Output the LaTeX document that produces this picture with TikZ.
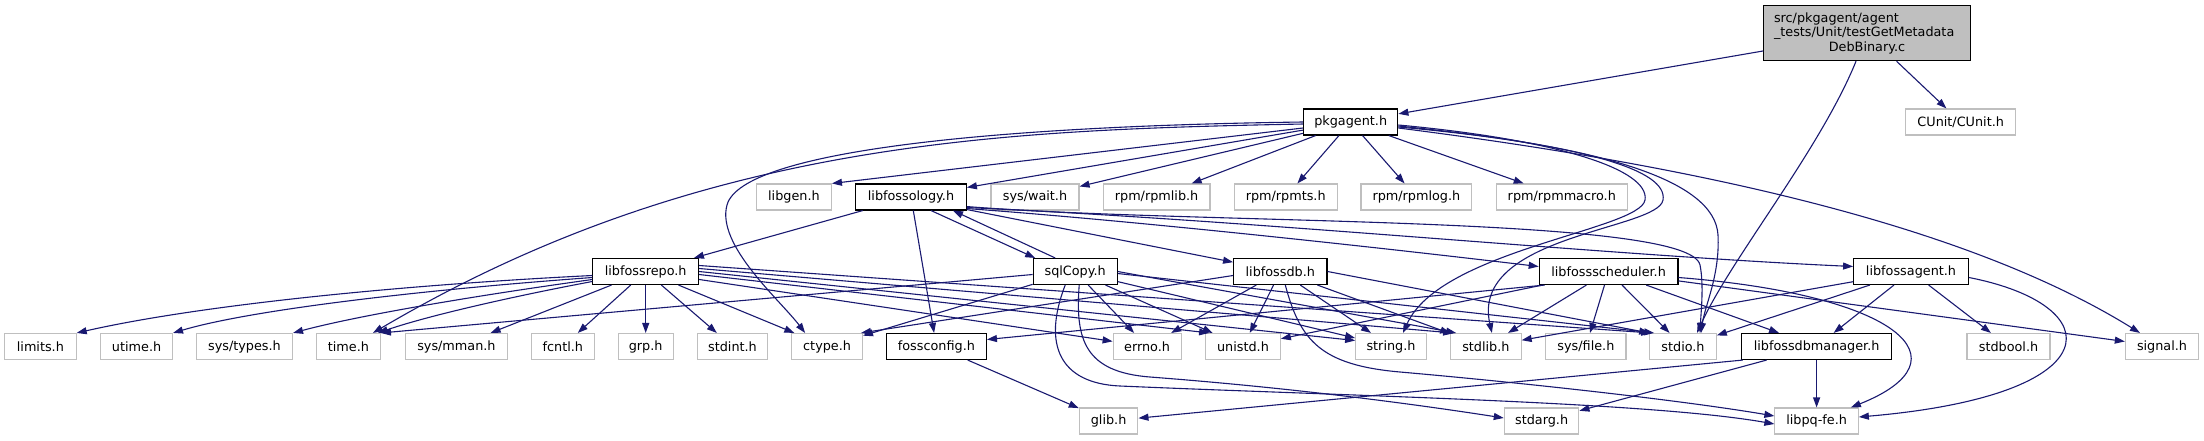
\documentclass[tikz,border=0pt]{standalone}
\usepackage{fontspec}
\newfontfamily\dv{DejaVu Sans}
\usetikzlibrary{arrows.meta}
\definecolor{edgeblue}{HTML}{191970}
\definecolor{extgray}{HTML}{BFBFBF}
\definecolor{rootfill}{HTML}{BFBFBF}
\tikzset{
  nbase/.style={line width=1.1pt, minimum height=26pt, inner sep=0pt, fill=white, font=\dv\fontsize{12.8}{14.7}\selectfont, text=black},
  ext/.style={nbase, draw=extgray},
  doc/.style={nbase, draw=black},
  conn/.style={draw=edgeblue, line width=1.1pt, -{Triangle[length=10pt,width=7pt]}},
}
\begin{document}
\begin{tikzpicture}[x=1pt,y=-1pt]
\useasboundingbox (0,0) rectangle (2204,440);
% row 0 / 1
\node[doc, fill=rootfill, minimum height=55pt, text width=186pt, inner xsep=10.25pt, inner ysep=0pt] (root) at (1867,33.2)
  {{\raggedright src/pkgagent/agent\\\_tests/Unit/testGetMetadata\par}{\centering DebBinary.c\par}};
\node[ext, minimum width=110.4pt] (cunit) at (1960.7,122) {CUnit/CUnit.h};
\node[doc, minimum width=94.3pt] (pkgagent) at (1350.7,122) {pkgagent.h};
% row 2
\node[ext, minimum width=75pt] (libgen) at (793.9,197) {libgen.h};
\node[doc, minimum width=110.7pt] (libfossology) at (911,197) {libfossology.h};
\node[ext, minimum width=88pt] (syswait) at (1035,197) {sys/wait.h};
\node[ext, minimum width=106.8pt] (rpmlib) at (1156.6,197) {rpm/rpmlib.h};
\node[ext, minimum width=102.8pt] (rpmts) at (1285.7,197) {rpm/rpmts.h};
\node[ext, minimum width=110.8pt] (rpmlog) at (1416.4,197) {rpm/rpmlog.h};
\node[ext, minimum width=130.7pt] (rpmmacro) at (1561.8,197) {rpm/rpmmacro.h};
% row 3
\node[doc, minimum width=105.7pt] (libfossrepo) at (645.7,271.5) {libfossrepo.h};
\node[doc, minimum width=84pt] (sqlcopy) at (1075.2,271.5) {sqlCopy.h};
\node[doc, minimum width=93.4pt] (libfossdb) at (1280.3,271.5) {libfossdb.h};
\node[doc, minimum width=138.7pt] (libfosssched) at (1608.6,271.5) {libfossscheduler.h};
\node[doc, minimum width=114.7pt] (libfossagent) at (1911,271.5) {libfossagent.h};
% row 4
\node[ext, minimum width=71.5pt] (limits) at (40.4,346.5) {limits.h};
\node[ext, minimum width=71.8pt] (utime) at (136.6,346.5) {utime.h};
\node[ext, minimum width=96pt] (systypes) at (244.5,346.5) {sys/types.h};
\node[ext, minimum width=64pt] (timeh) at (348.4,346.5) {time.h};
\node[ext, minimum width=102.5pt] (sysmman) at (456.4,346.5) {sys/mman.h};
\node[ext, minimum width=63pt] (fcntl) at (562.8,346.5) {fcntl.h};
\node[ext, minimum width=55pt] (grp) at (645.7,346.5) {grp.h};
\node[ext, minimum width=70.8pt] (stdint) at (732.5,346.5) {stdint.h};
\node[ext, minimum width=70.7pt] (ctype) at (827.1,346.5) {ctype.h};
\node[doc, minimum width=100pt] (fossconfig) at (936.4,346.5) {fossconfig.h};
\node[ext, minimum width=67.9pt] (errno) at (1147.1,346.5) {errno.h};
\node[ext, minimum width=74.7pt] (unistd) at (1243,346.5) {unistd.h};
\node[ext, minimum width=70.7pt] (stringh) at (1391,346.5) {string.h};
\node[ext, minimum width=70.4pt] (stdlib) at (1485.9,346.5) {stdlib.h};
\node[ext, minimum width=80.2pt] (sysfile) at (1585.9,346.5) {sys/file.h};
\node[ext, minimum width=66.5pt] (stdio) at (1683,346.5) {stdio.h};
\node[doc, minimum width=150.4pt] (dbmanager) at (1816.6,346.5) {libfossdbmanager.h};
\node[ext, minimum width=83pt] (stdbool) at (2008.5,346.5) {stdbool.h};
\node[ext, minimum width=73.3pt] (signal) at (2162,346.5) {signal.h};
% row 5
\node[ext, minimum width=58.6pt] (glib) at (1108.6,421) {glib.h};
\node[ext, minimum width=74.6pt] (stdarg) at (1541.6,421) {stdarg.h};
\node[ext, minimum width=83.4pt] (libpqfe) at (1816.6,421) {libpq-fe.h};

% root
\draw[conn] (root) -- (pkgagent);
\draw[conn] (root) -- (cunit);
\draw[conn] ([xshift=-11pt]root.south) .. controls (1820,150) and (1730,260) .. ([xshift=14pt]stdio.north);
% pkgagent
\draw[conn] ([yshift=-6pt]pkgagent.west) -- (libgen.north east);
\draw[conn] (pkgagent) -- (libfossology);
\draw[conn] (pkgagent) -- (syswait);
\draw[conn] (pkgagent) -- (rpmlib);
\draw[conn] (pkgagent) -- (rpmts);
\draw[conn] (pkgagent) -- (rpmlog);
\draw[conn] (pkgagent) -- (rpmmacro);
\draw[conn] ([yshift=-2pt]pkgagent.west) .. controls (1000,130) and (700,140) .. ([xshift=-8pt]timeh.north east);
\draw[conn] (pkgagent.west) .. controls (1000,126) and (742,150) .. (727,205) .. controls (716,245) and (780,300) .. ([xshift=-22pt]ctype.north);
\draw[conn] ([yshift=-3pt]pkgagent.east) .. controls (1560,140) and (1650,170) .. (1645,200) .. controls (1640,230) and (1440,250) .. ([xshift=12pt]stringh.north);
\draw[conn] ([yshift=-4pt]pkgagent.east) .. controls (1585,145) and (1668,170) .. (1663,200) .. controls (1658,230) and (1470,235) .. ([xshift=6pt]stdlib.north);
\draw[conn] ([yshift=-5pt]pkgagent.east) .. controls (1600,145) and (1715,180) .. (1718,235) .. controls (1720,275) and (1705,305) .. ([xshift=18pt]stdio.north);
\draw[conn] ([yshift=-6pt]pkgagent.east) .. controls (1650,160) and (1950,215) .. ([xshift=-22pt]signal.north);
% libfossology
\draw[conn] (libfossology) -- (libfossrepo);
\draw[conn] (libfossology) -- (fossconfig);
\draw[conn] ([xshift=20pt]libfossology.south) -- ([xshift=-40pt]sqlcopy.north);
\draw[conn] ([xshift=-20pt]sqlcopy.north) -- ([xshift=42pt]libfossology.south);
\draw[conn] ([yshift=1pt]libfossology.south east) -- (libfossdb);
\draw[conn] ([yshift=2pt]libfossology.south east) .. controls (1150,222) and (1400,250) .. ([yshift=5pt]libfosssched.west);
\draw[conn] ([yshift=3pt]libfossology.south east) .. controls (1250,220) and (1600,255) .. ([yshift=5pt]libfossagent.west);
\draw[conn] ([yshift=4pt]libfossology.south east) .. controls (1200,225) and (1690,215) .. (1700,265) .. controls (1704,285) and (1701,312) .. ([xshift=17pt]stdio.north);
% libfossrepo
\draw[conn] ([yshift=-4pt]libfossrepo.west) .. controls (400,285) and (200,305) .. (limits.north east);
\draw[conn] ([yshift=-6pt]libfossrepo.west) .. controls (420,290) and (250,310) .. (utime.north east);
\draw[conn] ([yshift=-8pt]libfossrepo.west) .. controls (480,295) and (360,315) .. (systypes.north east);
\draw[conn] ([yshift=-10pt]libfossrepo.west) .. controls (520,295) and (430,315) .. ([xshift=-3pt]timeh.north east);
\draw[conn] (libfossrepo) -- (sysmman);
\draw[conn] (libfossrepo) -- (fcntl);
\draw[conn] (libfossrepo) -- (grp);
\draw[conn] (libfossrepo) -- (stdint);
\draw[conn] (libfossrepo) -- (ctype);
\draw[conn] (libfossrepo) -- (errno);
\draw[conn] ([yshift=-3pt]libfossrepo.east) -- ([xshift=4pt]unistd.north west);
\draw[conn] (libfossrepo.east) -- ([yshift=6pt]stringh.west);
\draw[conn] ([yshift=3pt]libfossrepo.east) -- ([xshift=3pt]stdlib.north west);
\draw[conn] ([yshift=6pt]libfossrepo.east) -- ([xshift=2pt]stdio.north west);
% sqlCopy
\draw[conn] ([yshift=-3pt]sqlcopy.west) -- (timeh.north east);
\draw[conn] (sqlcopy) -- (ctype);
\draw[conn] (sqlcopy) -- (errno);
\draw[conn] (sqlcopy) -- (unistd);
\draw[conn] (sqlcopy) -- (stringh);
\draw[conn] (sqlcopy.east) -- ([xshift=6pt]stdlib.north west);
\draw[conn] ([yshift=-2pt]sqlcopy.east) -- ([xshift=5pt]stdio.north west);
\draw[conn] ([xshift=4pt]sqlcopy.south) .. controls (1075,340) and (1085,372) .. (1150,377) .. controls (1300,388.5) and (1420,405) .. ([yshift=3pt]stdarg.west);
\draw[conn] ([xshift=-10pt]sqlcopy.south) .. controls (1042,345) and (1060,383.4) .. (1120,386) .. controls (1350,396) and (1650,402) .. ([yshift=-3pt]libpqfe.west);
% libfossdb
\draw[conn] ([yshift=-4pt]libfossdb.west) -- ([xshift=-2pt]ctype.north east);
\draw[conn] (libfossdb) -- (errno);
\draw[conn] (libfossdb) -- (unistd);
\draw[conn] (libfossdb) -- (stringh);
\draw[conn] (libfossdb) -- (stdlib);
\draw[conn] (libfossdb.east) -- (stdio.north west);
\draw[conn] ([xshift=5pt]libfossdb.south) .. controls (1300,340) and (1320,365) .. (1400,372) .. controls (1520,382.5) and (1680,400) .. ([yshift=5pt]libpqfe.west);
% libfossscheduler
\draw[conn] ([xshift=6pt]libfosssched.south west) -- ([yshift=7pt]fossconfig.east);
\draw[conn] (libfosssched) -- (unistd);
\draw[conn] (libfosssched) -- (stdlib);
\draw[conn] (libfosssched) -- (sysfile);
\draw[conn] (libfosssched) -- (stdio);
\draw[conn] (libfosssched) -- (dbmanager);
\draw[conn] (libfosssched) -- (signal);
\draw[conn] ([yshift=-6pt]libfosssched.east) .. controls (1900,295) and (1970,360) .. ([xshift=-8pt]libpqfe.north east);
% libfossagent
\draw[conn] (libfossagent) -- (stdlib);
\draw[conn] (libfossagent) -- (stdio);
\draw[conn] (libfossagent) -- (dbmanager);
\draw[conn] (libfossagent) -- (stdbool);
\draw[conn] ([yshift=-6pt]libfossagent.east) .. controls (2110,305) and (2115,395) .. ([yshift=4pt]libpqfe.east);
% libfossdbmanager
\draw[conn] ([xshift=2pt]dbmanager.south west) -- (glib);
\draw[conn] (dbmanager) -- (stdarg);
\draw[conn] (dbmanager) -- (libpqfe);
% fossconfig
\draw[conn] (fossconfig) -- (glib);
\end{tikzpicture}
\end{document}
